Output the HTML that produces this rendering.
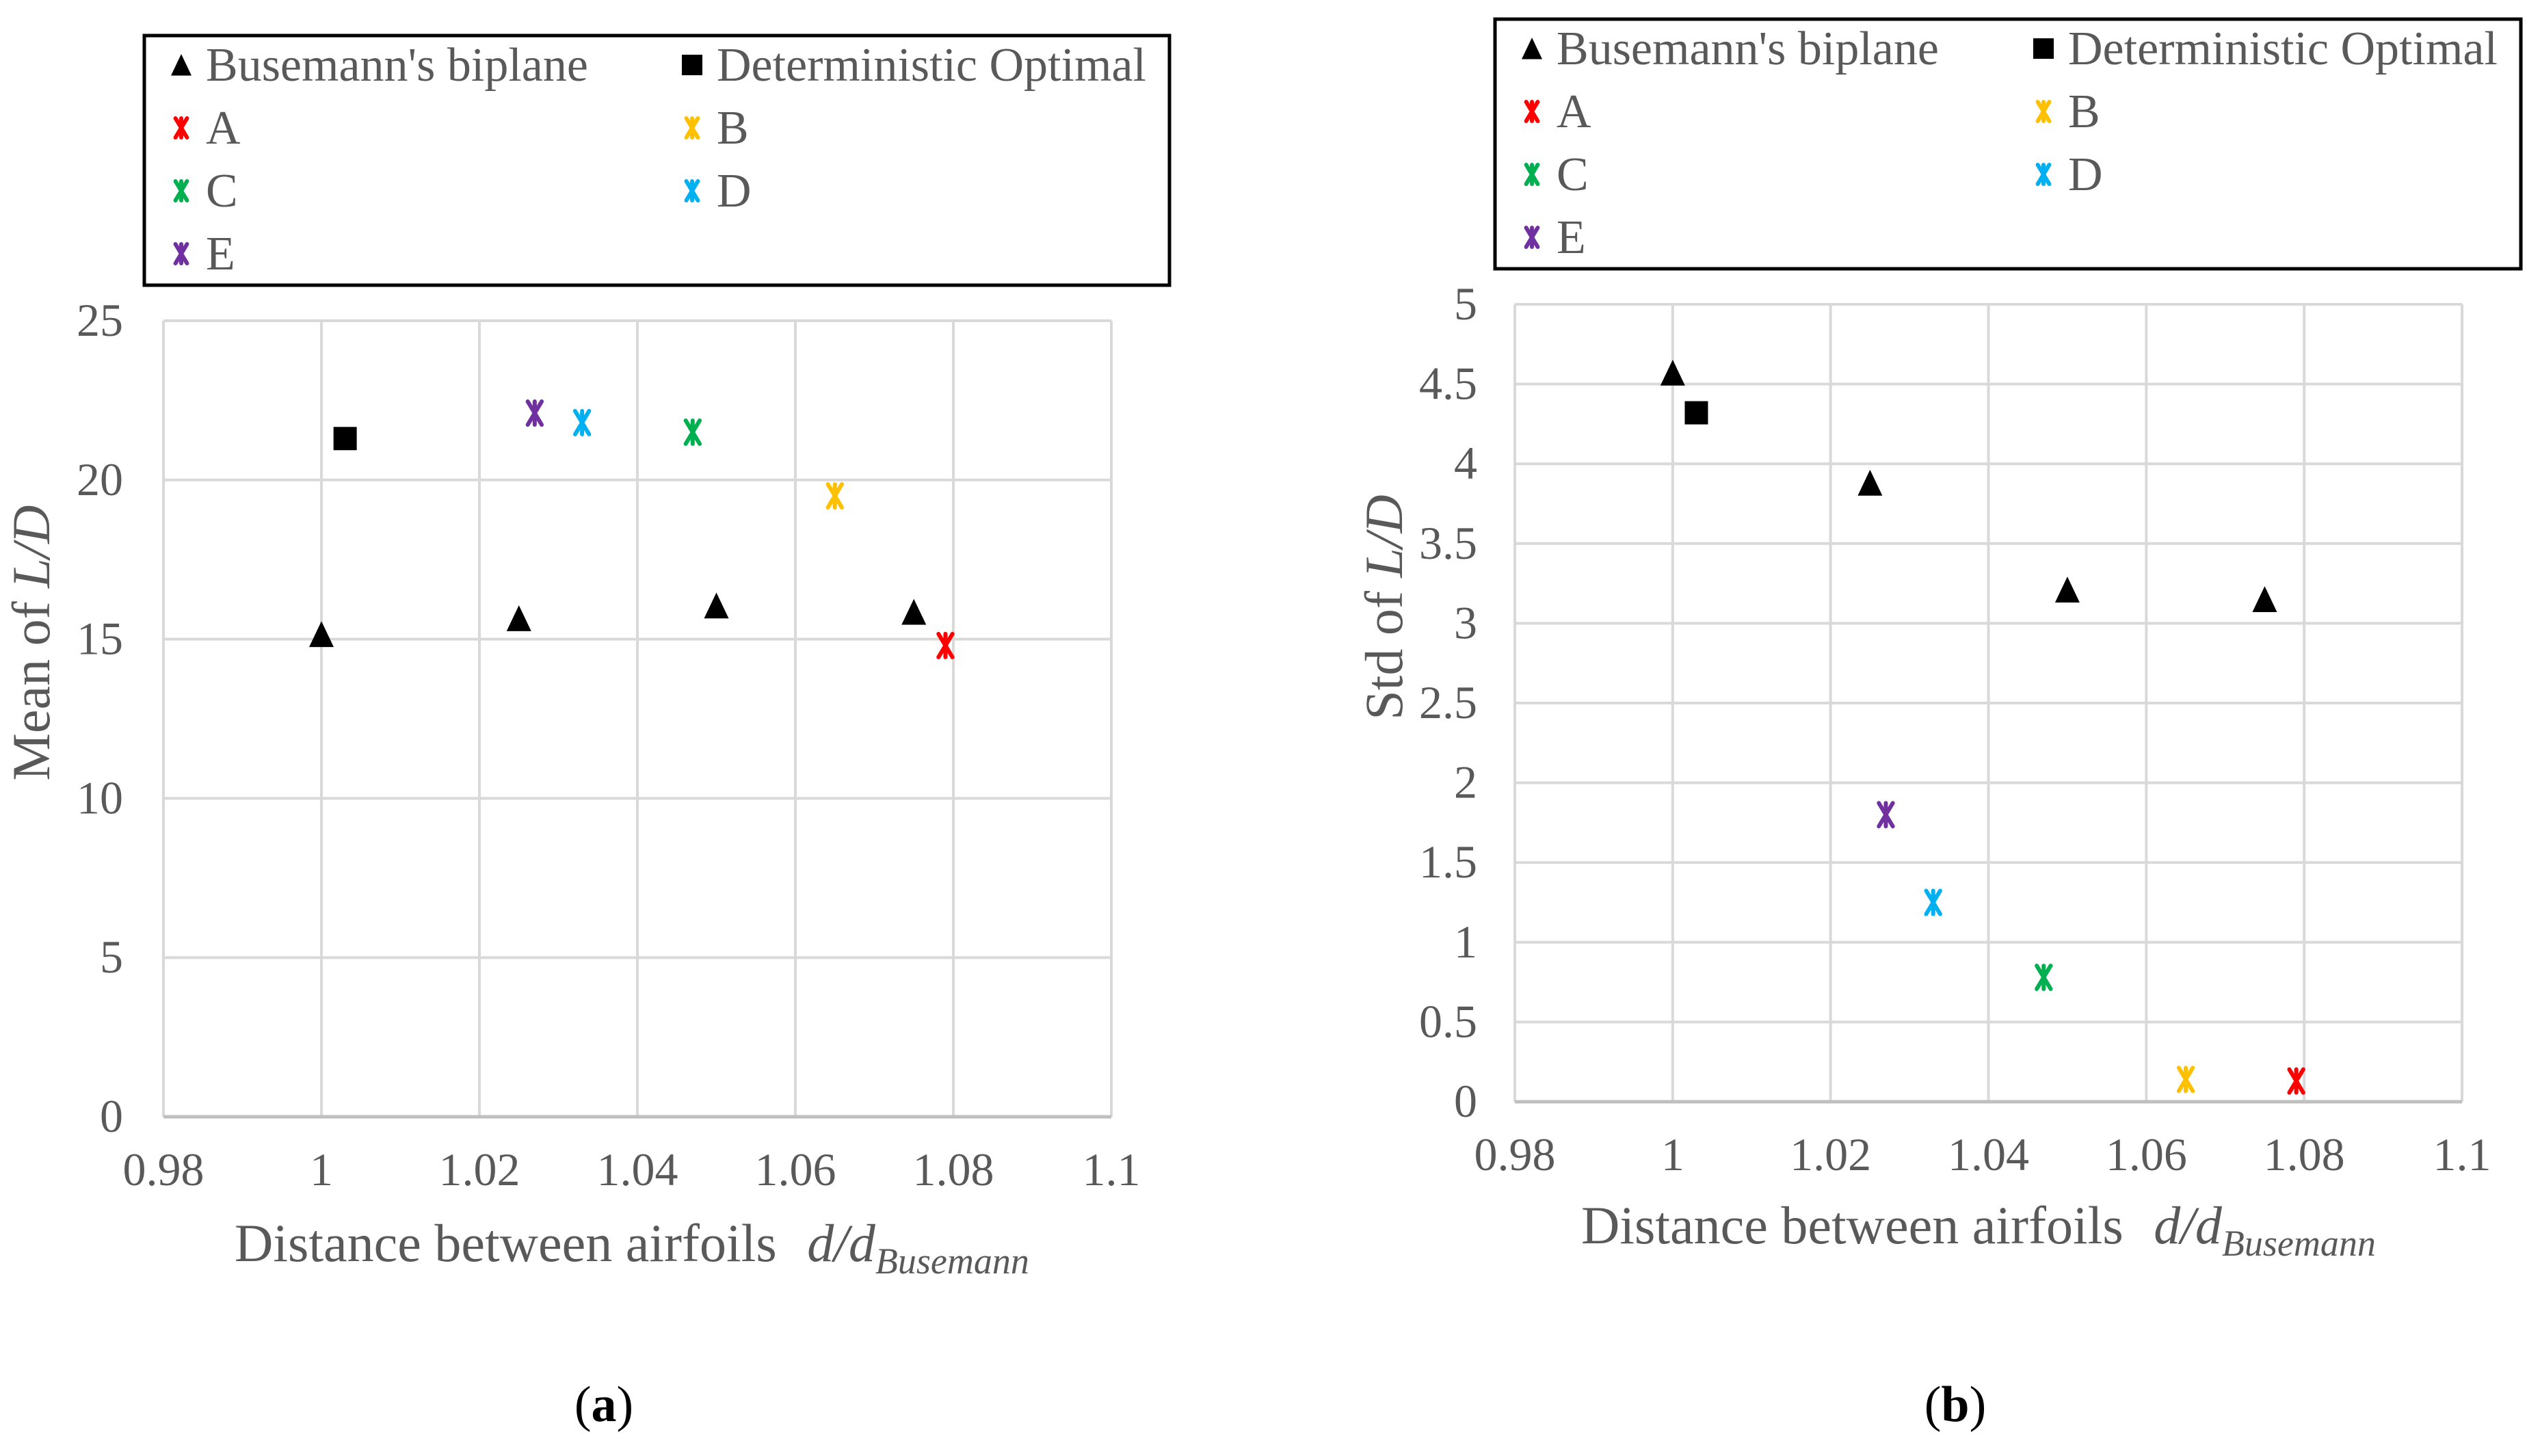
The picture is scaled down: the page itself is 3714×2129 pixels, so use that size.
<!DOCTYPE html>
<html><head><meta charset="utf-8"><style>
html,body{margin:0;padding:0;background:#fff;}
svg{display:block;}
svg text{font-family:"Liberation Serif","Times New Roman",serif;}
</style></head><body>
<svg id="s" width="3714" height="2129" viewBox="0 0 3714 2129" xmlns="http://www.w3.org/2000/svg" font-family="Liberation Serif, serif">
<rect x="0" y="0" width="3714" height="2129" fill="#fff"/>
</svg>
<script>
// ---- data ----
const xTicks = [0.98, 1.0, 1.02, 1.04, 1.06, 1.08, 1.1];
const xTickLabels = ["0.98","1","1.02","1.04","1.06","1.08","1.1"];
const meanYTicks = [0,5,10,15,20,25];
const stdYTicks = [0,0.5,1,1.5,2,2.5,3,3.5,4,4.5,5];
const busemannX = [1.0, 1.025, 1.05, 1.075];
const busemannMean = [15.1, 15.6, 16.0, 15.8];
const busemannStd = [4.56, 3.87, 3.2, 3.14];
const detX = [1.003];
const detMean = [21.3];
const detStd = [4.32];
const caseNames = ["A","B","C","D","E"];
const caseColors = ["#ff0000","#ffc000","#00b050","#00b0f0","#7030a0"];
const caseX = [1.079, 1.065, 1.047, 1.033, 1.027];
const caseMean = [14.8, 19.5, 21.5, 21.8, 22.1];
const caseStd = [0.13, 0.14, 0.78, 1.25, 1.8];

const NS="http://www.w3.org/2000/svg";
const svg=document.getElementById('s');
function mk(tag,attrs,parent){const e=document.createElementNS(NS,tag);for(const k in attrs)e.setAttribute(k,attrs[k]);if(tag==='text')e.setAttribute('font-family','Liberation Serif, serif');(parent||svg).appendChild(e);return e;}

function tri(g,cx,cy,s){return mk('polygon',{points:`${cx},${cy-s*0.6} ${cx-s*0.5},${cy+s*0.45} ${cx+s*0.5},${cy+s*0.45}`,fill:'#000'},g);}
function sq(g,cx,cy,s){return mk('rect',{x:cx-s/2,y:cy-s/2,width:s,height:s,fill:'#000'},g);}
function star(g,cx,cy,s,c){
  const h=s/2,gg=mk('g',{stroke:c,'stroke-width':6,'stroke-linecap':'round'},g);
  mk('line',{x1:cx-h*0.6,y1:cy-h,x2:cx+h*0.6,y2:cy+h},gg);
  mk('line',{x1:cx+h*0.6,y1:cy-h,x2:cx-h*0.6,y2:cy+h},gg);
  mk('line',{x1:cx,y1:cy-h,x2:cx,y2:cy+h},gg);
  return gg;
}

function chart(cfg){
  const g=mk('g',{});
  
  
  const X=v=>cfg.x0+(v-0.98)/(0.12)*(cfg.x1-cfg.x0);
  const Y=v=>cfg.y0-(v/cfg.ymax)*(cfg.y0-cfg.y1);
  const grid=mk('g',{stroke:'#d9d9d9','stroke-width':4},g);
  
  
  cfg.yt.forEach(v=>mk('line',{x1:cfg.x0,x2:cfg.x1,y1:Y(v),y2:Y(v)},grid));
  xTicks.forEach(v=>mk('line',{x1:X(v),x2:X(v),y1:cfg.y1,y2:cfg.y0},grid));
  mk('line',{x1:cfg.x0,x2:cfg.x1,y1:cfg.y0,y2:cfg.y0,stroke:'#bfbfbf','stroke-width':5},g);
  cfg.yt.forEach(v=>{const t=mk('text',{x:cfg.ylx,y:Y(v)+22,'text-anchor':'end','font-size':68,fill:'#595959'},g);t.textContent=String(v);
    });
  xTicks.forEach((v,i)=>{const t=mk('text',{x:X(v),y:cfg.y0+100,'text-anchor':'middle','font-size':68,fill:'#595959'},g);t.textContent=xTickLabels[i];
    });
  const xt=mk('text',{x:cfg.xtx,y:cfg.xty,'font-size':78,fill:'#595959'},g);
  
  xt.innerHTML='Distance between airfoils <tspan dx="25" font-style="italic">d/d</tspan><tspan font-style="italic" font-size="54" dy="18">Busemann</tspan>';
  const yt=mk('text',{x:0,y:0,'font-size':78,fill:'#595959','text-anchor':'middle',transform:`translate(${cfg.ytx},${cfg.yty}) rotate(-90)`},g);
  
  yt.innerHTML=cfg.ytitle+' <tspan font-style="italic">L/D</tspan>';
  cfg.bx.forEach((v,i)=>{const m=tri(g,X(v),Y(cfg.by[i]),36);});
  detX.forEach((v,i)=>{const m=sq(g,X(v),Y(cfg.dy[i]),34);});
  caseX.forEach((v,i)=>{const m=star(g,X(v),Y(cfg.cy[i]),34,caseColors[i]);});
  const L=cfg.leg;
  const lg=mk('g',{},g);
  
  mk('rect',{x:L.x,y:L.y,width:L.w,height:L.h,fill:'#fff',stroke:'#000','stroke-width':5},lg);
  const items=[['tri',"Busemann's biplane"],['sq','Deterministic Optimal']].concat(caseNames.map((n,i)=>['star',n,caseColors[i]]));
  items.forEach((it,i)=>{
    const col=i%2,row=Math.floor(i/2);
    const mx=L.x+54+col*(L.c2),my=L.r0+row*92;
    const e=mk('g',{},lg);
    
    if(it[0]==='tri')tri(e,mx,my+2,30);else if(it[0]==='sq')sq(e,mx,my,30);else star(e,mx,my,28,it[2]);
    const t=mk('text',{x:mx+36,y:my+23,'font-size':70,fill:'#595959'},e);t.textContent=it[1];
  });
  const c=mk('text',{x:cfg.capx,y:2078,'font-size':74,fill:'#000','text-anchor':'middle'},g);
  
  c.innerHTML='(<tspan font-weight="bold">'+cfg.cap+'</tspan>)';
}

chart({name:'mean-chart',x0:239,x1:1625,y0:1633,y1:469,ymax:25,yt:meanYTicks,ylx:180,
  xtx:343,xty:1844,ytx:72,yty:940,ytitle:'Mean of',bx:busemannX,by:busemannMean,dy:detMean,cy:caseMean,
  leg:{x:211,y:52,w:1499,h:365,r0:95,c2:747},capx:883,cap:'a'});
chart({name:'std-chart',x0:2215,x1:3600,y0:1611,y1:445,ymax:5,yt:stdYTicks,ylx:2160,
  xtx:2312,xty:1818,ytx:2050,yty:888,ytitle:'Std of',bx:busemannX,by:busemannStd,dy:detStd,cy:caseStd,
  leg:{x:2186,y:28,w:1500,h:365,r0:71,c2:748},capx:2859,cap:'b'});
</script>
</body></html>
